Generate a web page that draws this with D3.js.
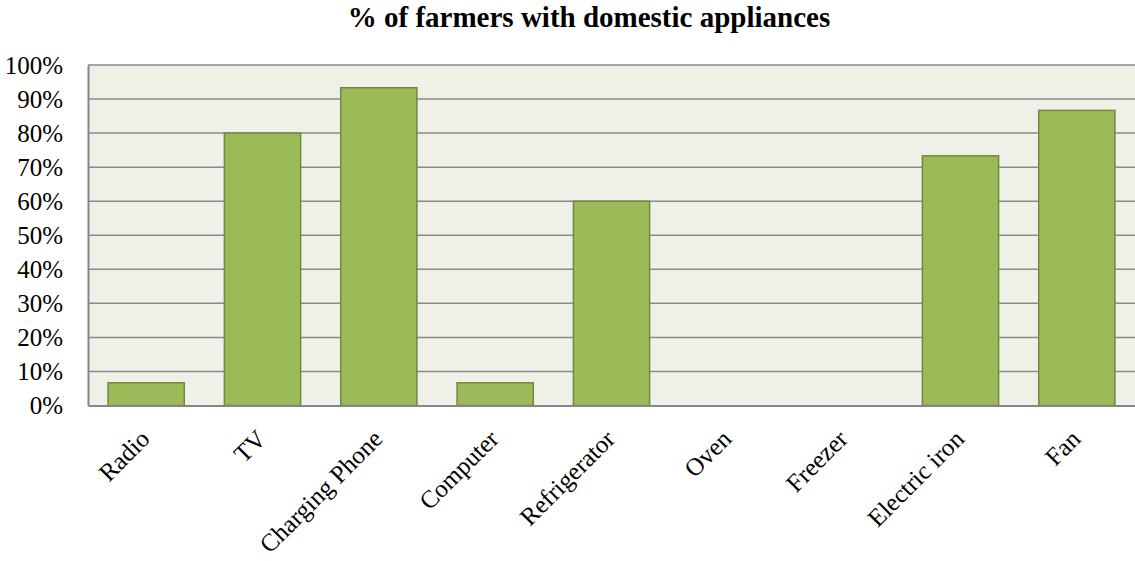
<!DOCTYPE html>
<html>
<head>
<meta charset="utf-8">
<script src="https://cdn.jsdelivr.net/npm/d3@7"></script>
<style>
  body { margin: 0; background: #fff; }
  svg { display: block; }
</style>
</head>
<body>
<div id="chart"></div>
<script>
// data
const categories = ["Radio", "TV", "Charging Phone", "Computer", "Refrigerator", "Oven", "Freezer", "Electric iron", "Fan"];
const percentValues = [6.67, 80, 93.33, 6.67, 60, 0, 0, 73.33, 86.67];
const yTicks = [0, 10, 20, 30, 40, 50, 60, 70, 80, 90, 100];
const chartTitle = "% of farmers with domestic appliances";

const W = 1135, H = 561;
const margin = { top: 65, right: 0, bottom: 155.5, left: 88 };
const width = W - margin.left - margin.right;
const height = H - margin.top - margin.bottom;
const serif = "'Liberation Serif', 'Times New Roman', serif";

const svg = d3.select("#chart").append("svg")
    .attr("width", W)
    .attr("height", H)
    .style("font-family", serif);

// title
svg.append("text")
    .attr("x", 589)
    .attr("y", 27)
    .attr("text-anchor", "middle")
    .style("font-size", "29px")
    .style("font-weight", "bold")
    .text(chartTitle);

const g = svg.append("g").attr("transform", `translate(${margin.left},${margin.top})`);

const x = d3.scaleBand()
    .domain(categories)
    .range([0, width])
    .paddingInner(0.345)
    .paddingOuter(0.1725);

const y = d3.scaleLinear()
    .domain([0, 100])
    .range([height, 0]);

// plot background
g.append("rect")
    .attr("width", width)
    .attr("height", height)
    .attr("fill", "#EFF1E9");

// gridlines
g.selectAll(".grid")
    .data(yTicks.filter(d => d > 0))
    .enter().append("line")
    .attr("x1", 0)
    .attr("x2", width)
    .attr("y1", d => y(d))
    .attr("y2", d => y(d))
    .attr("stroke", "#8A8A8A")
    .attr("stroke-width", 1.5);

// bars
g.selectAll(".bar")
    .data(categories.map((c, i) => ({ c, v: percentValues[i] })).filter(d => d.v > 0))
    .enter().append("rect")
    .attr("x", d => x(d.c))
    .attr("y", d => y(d.v))
    .attr("width", x.bandwidth())
    .attr("height", d => height - y(d.v))
    .attr("fill", "#9BBB59")
    .attr("stroke", "#71893F")
    .attr("stroke-width", 1.5);

// y axis
const yAxis = g.append("g")
    .call(d3.axisLeft(y).tickValues(yTicks).tickFormat(d => d + "%").tickSize(0).tickPadding(25));
yAxis.select(".domain").attr("stroke", "#868686").attr("stroke-width", 2);
yAxis.selectAll("text")
    .style("font-size", "25px")
    .style("font-family", serif)
    .attr("fill", "#000");

// x axis
const xAxis = g.append("g")
    .attr("transform", `translate(0,${height})`)
    .call(d3.axisBottom(x).tickSize(0));
xAxis.select(".domain").attr("stroke", "#868686").attr("stroke-width", 2);
xAxis.selectAll("text")
    .style("font-size", "25px")
    .style("font-family", serif)
    .attr("fill", "#000")
    .attr("text-anchor", "end")
    .attr("y", 0)
    .attr("dy", 0)
    .attr("transform", "translate(5,35) rotate(-45)");
</script>
</body>
</html>
